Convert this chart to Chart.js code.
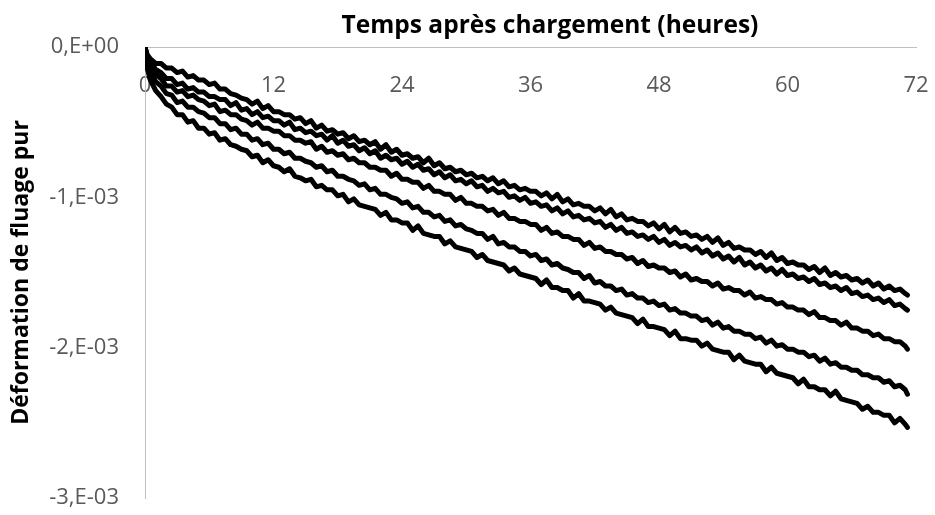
<!DOCTYPE html>
<html>
<head>
<meta charset="utf-8">
<script src="https://cdn.jsdelivr.net/npm/chart.js@4/dist/chart.umd.min.js"></script>
<style>
  html, body { margin: 0; padding: 0; background: #ffffff; }
  #wrap { width: 935px; height: 515px; position: relative; }
</style>
</head>
<body>
<div id="wrap"><canvas id="c" width="935" height="515"></canvas></div>
<script>
// Time after loading (hours)
const hours = [
  0, 0.2,
  0.5, 1, 1.5, 2, 2.5, 3, 3.5, 4, 4.5, 5,
  5.5, 6, 6.5, 7, 7.5, 8, 8.5, 9, 9.5, 10,
  10.5, 11, 11.5, 12, 12.5, 13, 13.5, 14, 14.5, 15,
  15.5, 16, 16.5, 17, 17.5, 18, 18.5, 19, 19.5, 20,
  20.5, 21, 21.5, 22, 22.5, 23, 23.5, 24, 24.5, 25,
  25.5, 26, 26.5, 27, 27.5, 28, 28.5, 29, 29.5, 30,
  30.5, 31, 31.5, 32, 32.5, 33, 33.5, 34, 34.5, 35,
  35.5, 36, 36.5, 37, 37.5, 38, 38.5, 39, 39.5, 40,
  40.5, 41, 41.5, 42, 42.5, 43, 43.5, 44, 44.5, 45,
  45.5, 46, 46.5, 47, 47.5, 48, 48.5, 49, 49.5, 50,
  50.5, 51, 51.5, 52, 52.5, 53, 53.5, 54, 54.5, 55,
  55.5, 56, 56.5, 57, 57.5, 58, 58.5, 59, 59.5, 60,
  60.5, 61, 61.5, 62, 62.5, 63, 63.5, 64, 64.5, 65,
  65.5, 66, 66.5, 67, 67.5, 68, 68.5, 69, 69.5, 70,
  70.5, 71, 71.2
];

// Creep strain magnitude, in units of 1e-3 (plotted as negative values)
const creep1 = [
  0, 0.05,
  0.08,0.11,0.11,0.14,0.14,0.17,0.16,0.20,0.19,0.22,
  0.22,0.25,0.24,0.28,0.28,0.31,0.32,0.34,0.35,0.38,
  0.36,0.41,0.39,0.43,0.43,0.45,0.45,0.48,0.47,0.51,
  0.49,0.54,0.52,0.56,0.55,0.58,0.57,0.61,0.59,0.63,
  0.62,0.65,0.63,0.68,0.65,0.70,0.68,0.72,0.71,0.74,
  0.73,0.77,0.74,0.79,0.77,0.81,0.80,0.83,0.82,0.85,
  0.84,0.87,0.86,0.89,0.87,0.91,0.89,0.93,0.92,0.95,
  0.94,0.96,0.96,0.99,0.97,1.01,0.98,1.03,1.01,1.05,
  1.04,1.06,1.06,1.09,1.07,1.11,1.08,1.13,1.11,1.15,
  1.14,1.16,1.16,1.19,1.17,1.21,1.18,1.23,1.20,1.24,
  1.23,1.26,1.25,1.28,1.26,1.30,1.27,1.32,1.30,1.34,
  1.33,1.35,1.35,1.38,1.36,1.40,1.37,1.42,1.40,1.44,
  1.43,1.45,1.45,1.48,1.46,1.50,1.47,1.52,1.50,1.53,
  1.52,1.55,1.54,1.57,1.55,1.59,1.57,1.61,1.59,1.62,
  1.61,1.64,1.65
];
const creep2 = [
  0, 0.06,
  0.10,0.15,0.17,0.21,0.21,0.25,0.24,0.28,0.27,0.30,
  0.30,0.33,0.33,0.35,0.35,0.39,0.37,0.42,0.41,0.45,
  0.43,0.47,0.46,0.49,0.49,0.52,0.50,0.55,0.54,0.57,
  0.56,0.59,0.58,0.62,0.59,0.64,0.62,0.66,0.65,0.69,
  0.67,0.71,0.69,0.74,0.72,0.75,0.74,0.78,0.76,0.80,
  0.78,0.82,0.81,0.85,0.83,0.87,0.85,0.89,0.88,0.91,
  0.89,0.93,0.92,0.96,0.94,0.97,0.96,1.00,0.99,1.02,
  1.00,1.04,1.03,1.06,1.05,1.09,1.07,1.11,1.09,1.13,
  1.12,1.15,1.14,1.17,1.16,1.20,1.18,1.22,1.20,1.24,
  1.23,1.26,1.25,1.28,1.26,1.30,1.28,1.32,1.30,1.33,
  1.32,1.35,1.33,1.37,1.35,1.39,1.37,1.41,1.39,1.43,
  1.40,1.45,1.43,1.47,1.45,1.49,1.47,1.51,1.48,1.52,
  1.51,1.54,1.53,1.56,1.54,1.58,1.57,1.60,1.59,1.62,
  1.60,1.64,1.63,1.66,1.65,1.68,1.67,1.70,1.68,1.72,
  1.71,1.74,1.75
];
const creep3 = [
  0, 0.08,
  0.13,0.18,0.21,0.26,0.26,0.30,0.29,0.33,0.32,0.35,
  0.36,0.39,0.38,0.43,0.42,0.45,0.45,0.48,0.49,0.52,
  0.50,0.54,0.54,0.56,0.56,0.59,0.59,0.62,0.62,0.64,
  0.63,0.68,0.66,0.70,0.69,0.72,0.71,0.75,0.74,0.77,
  0.77,0.80,0.80,0.82,0.82,0.86,0.84,0.88,0.88,0.90,
  0.90,0.94,0.92,0.96,0.96,0.98,0.98,1.02,1.00,1.04,
  1.04,1.06,1.06,1.09,1.08,1.12,1.10,1.14,1.14,1.16,
  1.16,1.18,1.18,1.22,1.20,1.24,1.23,1.26,1.26,1.28,
  1.28,1.32,1.30,1.34,1.33,1.36,1.36,1.38,1.38,1.41,
  1.40,1.44,1.42,1.46,1.45,1.47,1.47,1.50,1.49,1.53,
  1.51,1.55,1.54,1.56,1.56,1.59,1.57,1.61,1.60,1.62,
  1.62,1.65,1.63,1.67,1.66,1.68,1.68,1.71,1.70,1.73,
  1.73,1.75,1.75,1.78,1.76,1.80,1.80,1.82,1.82,1.85,
  1.83,1.87,1.87,1.89,1.89,1.92,1.91,1.94,1.94,1.96,
  1.96,1.99,2.01
];
const creep4 = [
  0, 0.10,
  0.16,0.23,0.26,0.31,0.32,0.37,0.36,0.40,0.40,0.43,
  0.44,0.47,0.47,0.51,0.51,0.55,0.54,0.58,0.58,0.62,
  0.61,0.65,0.64,0.68,0.68,0.71,0.70,0.74,0.74,0.76,
  0.77,0.80,0.79,0.83,0.82,0.86,0.86,0.88,0.89,0.92,
  0.91,0.95,0.94,0.98,0.98,1.00,1.01,1.04,1.03,1.07,
  1.06,1.10,1.10,1.13,1.12,1.16,1.15,1.19,1.18,1.21,
  1.22,1.24,1.24,1.28,1.26,1.31,1.30,1.33,1.33,1.36,
  1.36,1.39,1.38,1.42,1.41,1.45,1.44,1.47,1.48,1.50,
  1.50,1.54,1.52,1.57,1.56,1.59,1.59,1.62,1.61,1.65,
  1.64,1.67,1.67,1.70,1.69,1.72,1.71,1.75,1.74,1.77,
  1.77,1.79,1.79,1.82,1.81,1.85,1.83,1.87,1.86,1.89,
  1.89,1.91,1.91,1.94,1.93,1.97,1.95,1.99,1.98,2.01,
  2.01,2.03,2.03,2.06,2.05,2.09,2.07,2.11,2.10,2.13,
  2.13,2.15,2.15,2.18,2.18,2.20,2.20,2.23,2.22,2.26,
  2.25,2.28,2.31
];
const creep5 = [
  0, 0.14,
  0.22,0.29,0.33,0.38,0.40,0.45,0.45,0.50,0.49,0.54,
  0.54,0.58,0.57,0.62,0.61,0.65,0.66,0.68,0.69,0.73,
  0.72,0.77,0.75,0.79,0.80,0.83,0.81,0.86,0.87,0.89,
  0.88,0.93,0.92,0.95,0.95,0.99,0.98,1.03,1.01,1.05,
  1.06,1.07,1.08,1.12,1.10,1.15,1.15,1.17,1.17,1.22,
  1.19,1.24,1.25,1.26,1.26,1.31,1.29,1.33,1.34,1.35,
  1.36,1.40,1.38,1.42,1.43,1.44,1.45,1.49,1.47,1.51,
  1.52,1.53,1.54,1.58,1.55,1.60,1.60,1.62,1.62,1.67,
  1.64,1.69,1.69,1.70,1.71,1.75,1.73,1.77,1.78,1.79,
  1.80,1.84,1.81,1.86,1.86,1.87,1.88,1.92,1.89,1.94,
  1.94,1.95,1.95,1.99,1.97,2.01,2.02,2.03,2.03,2.08,
  2.05,2.09,2.10,2.11,2.11,2.16,2.13,2.17,2.18,2.19,
  2.20,2.24,2.21,2.26,2.26,2.28,2.28,2.32,2.29,2.34,
  2.35,2.36,2.37,2.41,2.39,2.43,2.43,2.45,2.45,2.50,
  2.47,2.51,2.53
];

const xTicks = [0, 12, 24, 36, 48, 60, 72];
const yTicks = [0, -1e-3, -2e-3, -3e-3];
const yTickLabels = ['0,E+00', '-1,E-03', '-2,E-03', '-3,E-03'];
const xTitle = 'Temps après chargement (heures)';
const yTitle = 'Déformation de fluage pur';

const allSeries = [creep1, creep2, creep3, creep4, creep5];

const datasets = allSeries.map((s, k) => ({
  label: 'Série ' + (k + 1),
  data: hours.map((h, i) => ({ x: h, y: -s[i] * 1e-3 })),
  borderColor: '#000000',
  backgroundColor: '#000000',
  borderWidth: 5,
  pointRadius: 0,
  tension: 0,
  borderJoinStyle: 'round',
  borderCapStyle: 'round',
  fill: false
}));

const tickFont = { family: "'Open Sans', sans-serif", size: 22 };
const yTitleFont = { family: "'Open Sans', sans-serif", size: 23, weight: 'bold' };

// Draws the x-axis title (Excel places it slightly right of the plot centre)
const xTitlePlugin = {
  id: 'xTitlePlugin',
  afterDraw(chart) {
    const ctx = chart.ctx;
    ctx.save();
    ctx.font = 'bold 24.5px "Open Sans", sans-serif';
    ctx.fillStyle = '#000000';
    ctx.textAlign = 'center';
    ctx.textBaseline = 'middle';
    ctx.fillText(xTitle, 550, 26);
    ctx.restore();
  }
};

new Chart(document.getElementById('c'), {
  type: 'line',
  data: { datasets },
  plugins: [xTitlePlugin],
  options: {
    responsive: false,
    animation: false,
    events: [],
    layout: { padding: { left: 0, top: 0, right: 19, bottom: 17 } },
    plugins: { legend: { display: false }, tooltip: { enabled: false } },
    scales: {
      x: {
        type: 'linear',
        position: 'top',
        min: 0, max: 72,
        afterBuildTicks: (scale) => { scale.ticks = xTicks.map(v => ({ value: v })); },
        grid: { display: false, drawTicks: false },
        border: { display: true, color: '#bfbfbf', width: 1 },
        ticks: { color: '#595959', font: tickFont, mirror: true, padding: 26, maxRotation: 0, autoSkip: false },
        title: { display: false },
        afterFit: (scale) => { scale.height = 47; scale.paddingLeft = 0; scale.paddingRight = 0; }
      },
      y: {
        type: 'linear',
        position: 'left',
        min: -3e-3, max: 0,
        afterBuildTicks: (scale) => { scale.ticks = yTicks.map(v => ({ value: v })); },
        grid: { display: false, drawTicks: false },
        border: { display: true, color: '#bfbfbf', width: 1 },
        ticks: {
          color: '#595959', font: tickFont, padding: 26,
          callback: (v) => {
            const i = yTicks.findIndex(t => Math.abs(t - v) < 1e-9);
            return i >= 0 ? yTickLabels[i] : '';
          }
        },
        title: { display: true, text: yTitle, color: '#000000', font: yTitleFont, padding: { top: 8, bottom: 0 } },
        afterFit: (scale) => { scale.width = 145; scale.paddingTop = 0; scale.paddingBottom = 0; }
      }
    }
  }
});
</script>
</body>
</html>
